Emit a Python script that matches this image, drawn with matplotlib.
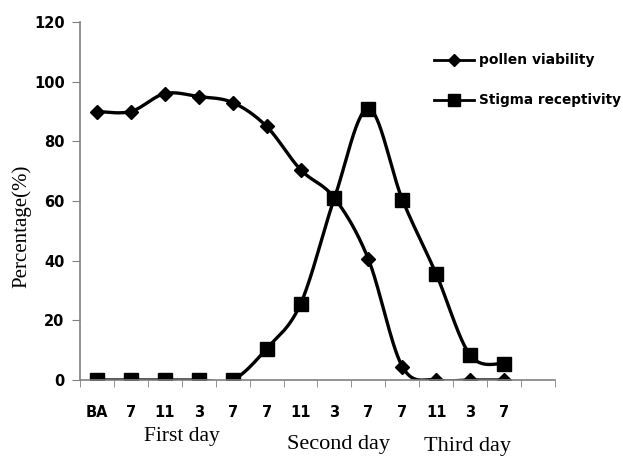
import numpy as np
import matplotlib
matplotlib.use("Agg")
from matplotlib import pyplot as plt

# data
tick_labels = ["BA", "7", "11", "3", "7", "7", "11", "3", "7", "7", "11", "3", "7"]
pollen = [90, 90, 96, 95, 93, 85, 70.5, 61, 40.5, 4.5, 0, 0, 0]
stigma = [0, 0, 0, 0, 0, 10.5, 25.5, 61, 91, 60.5, 35.5, 8.3, 5.5]
day_labels = ["First day", "Second day", "Third day"]


def smooth(xs, ys, n=30):
    # Excel-like smoothed line: cubic bezier through points
    xs = np.asarray(xs, float); ys = np.asarray(ys, float)
    P = np.column_stack([xs, ys])
    out = []
    for i in range(len(P) - 1):
        p0 = P[i - 1] if i > 0 else P[i]
        p1 = P[i]
        p2 = P[i + 1]
        p3 = P[i + 2] if i + 2 < len(P) else P[i + 1]
        c1 = p1 + (p2 - p0) / 6.0
        c2 = p2 - (p3 - p1) / 6.0
        t = np.linspace(0, 1, n)[:, None]
        seg = ((1 - t) ** 3) * p1 + 3 * ((1 - t) ** 2) * t * c1 + 3 * (1 - t) * t ** 2 * c2 + t ** 3 * p2
        out.append(seg if i == 0 else seg[1:])
    out = np.vstack(out)
    return out[:, 0], out[:, 1]


x = np.arange(len(tick_labels))

fig = plt.figure(figsize=(6.23, 4.58), dpi=100)
ax = fig.add_axes([80 / 623, 78 / 458, 475 / 623, 358 / 458])

sx, sy = smooth(x, pollen)
ax.plot(sx, sy, color="black", lw=2.4, solid_capstyle="round")
ax.plot(x, pollen, ls="none", marker="D", ms=7, color="black")
sx, sy = smooth(x, stigma)
ax.plot(sx, sy, color="black", lw=2.4)
ax.plot(x, stigma, ls="none", marker="s", ms=10, color="black")

ax.set_xlim(-0.5, 13.5)
ax.set_ylim(0, 120)
ax.set_yticks(np.arange(0, 121, 20))
ax.set_xticks(x)
ax.set_xticklabels(tick_labels, fontsize=10.5, fontweight="bold", family="DejaVu Sans")
ax.set_xticks(np.arange(-0.5, 14, 1), minor=True)
ax.tick_params(axis="x", which="major", length=0, pad=18)
ax.tick_params(axis="x", which="minor", length=5, direction="out", color="#808080")
ax.tick_params(axis="y", length=6, direction="out", color="#808080", labelsize=10.5, pad=5)
for lab in ax.get_yticklabels():
    lab.set_fontweight("bold")
for s in ["top", "right"]:
    ax.spines[s].set_visible(False)
for s in ["left", "bottom"]:
    ax.spines[s].set_color("#808080")
    ax.spines[s].set_linewidth(1.2)

fig.text(22 / 623, 1 - 226 / 458, "Percentage(%)", family="Liberation Serif", fontsize=15,
         rotation=90, ha="center", va="center")

# day labels under the axis
fig.text(182 / 623, 1 - 436 / 458, day_labels[0], family="Liberation Serif", fontsize=15.5, ha="center", va="center")
fig.text(339 / 623, 1 - 444 / 458, day_labels[1], family="Liberation Serif", fontsize=16, ha="center", va="center")
fig.text(467 / 623, 1 - 447 / 458, day_labels[2], family="Liberation Serif", fontsize=16, ha="center", va="center")

# legend
fig.add_artist(plt.Line2D([434 / 623, 474 / 623], [1 - 60 / 458] * 2, color="black", lw=2, transform=fig.transFigure))
fig.add_artist(plt.Line2D([454 / 623], [1 - 60 / 458], color="black", marker="D", ms=6, transform=fig.transFigure))
fig.add_artist(plt.Line2D([434 / 623, 474 / 623], [1 - 100 / 458] * 2, color="black", lw=2, transform=fig.transFigure))
fig.add_artist(plt.Line2D([454 / 623], [1 - 100 / 458], color="black", marker="s", ms=9, transform=fig.transFigure))
fig.text(479 / 623, 1 - 60 / 458, "pollen viability", fontsize=10, fontweight="bold", va="center")
fig.text(479 / 623, 1 - 100 / 458, "Stigma receptivity", fontsize=9.8, fontweight="bold", va="center")

fig.savefig("out.png", dpi=100)
